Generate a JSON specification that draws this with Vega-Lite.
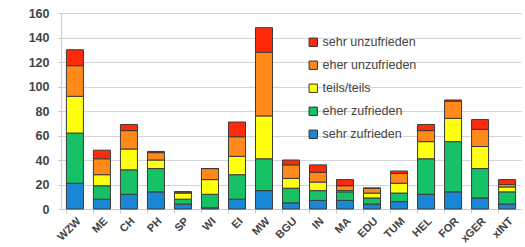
{
  "$schema": "https://vega.github.io/schema/vega-lite/v6.json",
  "width": 460,
  "height": 196,
  "autosize": {"type": "none"},
  "padding": {"left": 61, "top": 13, "right": 4, "bottom": 38},
  "background": "white",
  "config": {
    "view": {"stroke": null},
    "font": "Liberation Sans",
    "axis": {"labelFont": "Liberation Sans", "labelColor": "#333333", "gridColor": "#d4d4d4", "domainColor": "#c8c8c8", "tickColor": "#c8c8c8"}
  },
  "data": {
    "values": [
      {"c": "WZW", "s": "sehr zufrieden", "k": 1, "v": 21},
      {"c": "WZW", "s": "eher zufrieden", "k": 2, "v": 41},
      {"c": "WZW", "s": "teils/teils", "k": 3, "v": 30},
      {"c": "WZW", "s": "eher unzufrieden", "k": 4, "v": 25},
      {"c": "WZW", "s": "sehr unzufrieden", "k": 5, "v": 13},
      {"c": "ME", "s": "sehr zufrieden", "k": 1, "v": 8},
      {"c": "ME", "s": "eher zufrieden", "k": 2, "v": 11},
      {"c": "ME", "s": "teils/teils", "k": 3, "v": 9},
      {"c": "ME", "s": "eher unzufrieden", "k": 4, "v": 13},
      {"c": "ME", "s": "sehr unzufrieden", "k": 5, "v": 7},
      {"c": "CH", "s": "sehr zufrieden", "k": 1, "v": 12},
      {"c": "CH", "s": "eher zufrieden", "k": 2, "v": 20},
      {"c": "CH", "s": "teils/teils", "k": 3, "v": 17},
      {"c": "CH", "s": "eher unzufrieden", "k": 4, "v": 15},
      {"c": "CH", "s": "sehr unzufrieden", "k": 5, "v": 5},
      {"c": "PH", "s": "sehr zufrieden", "k": 1, "v": 14},
      {"c": "PH", "s": "eher zufrieden", "k": 2, "v": 19},
      {"c": "PH", "s": "teils/teils", "k": 3, "v": 7},
      {"c": "PH", "s": "eher unzufrieden", "k": 4, "v": 6},
      {"c": "PH", "s": "sehr unzufrieden", "k": 5, "v": 1},
      {"c": "SP", "s": "sehr zufrieden", "k": 1, "v": 4},
      {"c": "SP", "s": "eher zufrieden", "k": 2, "v": 4},
      {"c": "SP", "s": "teils/teils", "k": 3, "v": 5},
      {"c": "SP", "s": "eher unzufrieden", "k": 4, "v": 1},
      {"c": "SP", "s": "sehr unzufrieden", "k": 5, "v": 0},
      {"c": "WI", "s": "sehr zufrieden", "k": 1, "v": 1},
      {"c": "WI", "s": "eher zufrieden", "k": 2, "v": 11},
      {"c": "WI", "s": "teils/teils", "k": 3, "v": 12},
      {"c": "WI", "s": "eher unzufrieden", "k": 4, "v": 9},
      {"c": "WI", "s": "sehr unzufrieden", "k": 5, "v": 0},
      {"c": "EI", "s": "sehr zufrieden", "k": 1, "v": 8},
      {"c": "EI", "s": "eher zufrieden", "k": 2, "v": 20},
      {"c": "EI", "s": "teils/teils", "k": 3, "v": 15},
      {"c": "EI", "s": "eher unzufrieden", "k": 4, "v": 16},
      {"c": "EI", "s": "sehr unzufrieden", "k": 5, "v": 12},
      {"c": "MW", "s": "sehr zufrieden", "k": 1, "v": 15},
      {"c": "MW", "s": "eher zufrieden", "k": 2, "v": 26},
      {"c": "MW", "s": "teils/teils", "k": 3, "v": 35},
      {"c": "MW", "s": "eher unzufrieden", "k": 4, "v": 52},
      {"c": "MW", "s": "sehr unzufrieden", "k": 5, "v": 20},
      {"c": "BGU", "s": "sehr zufrieden", "k": 1, "v": 5},
      {"c": "BGU", "s": "eher zufrieden", "k": 2, "v": 12},
      {"c": "BGU", "s": "teils/teils", "k": 3, "v": 8},
      {"c": "BGU", "s": "eher unzufrieden", "k": 4, "v": 11},
      {"c": "BGU", "s": "sehr unzufrieden", "k": 5, "v": 4},
      {"c": "IN", "s": "sehr zufrieden", "k": 1, "v": 7},
      {"c": "IN", "s": "eher zufrieden", "k": 2, "v": 8},
      {"c": "IN", "s": "teils/teils", "k": 3, "v": 7},
      {"c": "IN", "s": "eher unzufrieden", "k": 4, "v": 8},
      {"c": "IN", "s": "sehr unzufrieden", "k": 5, "v": 6},
      {"c": "MA", "s": "sehr zufrieden", "k": 1, "v": 7},
      {"c": "MA", "s": "eher zufrieden", "k": 2, "v": 7},
      {"c": "MA", "s": "teils/teils", "k": 3, "v": 1},
      {"c": "MA", "s": "eher unzufrieden", "k": 4, "v": 4},
      {"c": "MA", "s": "sehr unzufrieden", "k": 5, "v": 5},
      {"c": "EDU", "s": "sehr zufrieden", "k": 1, "v": 4},
      {"c": "EDU", "s": "eher zufrieden", "k": 2, "v": 5},
      {"c": "EDU", "s": "teils/teils", "k": 3, "v": 4},
      {"c": "EDU", "s": "eher unzufrieden", "k": 4, "v": 4},
      {"c": "EDU", "s": "sehr unzufrieden", "k": 5, "v": 0},
      {"c": "TUM", "s": "sehr zufrieden", "k": 1, "v": 6},
      {"c": "TUM", "s": "eher zufrieden", "k": 2, "v": 7},
      {"c": "TUM", "s": "teils/teils", "k": 3, "v": 8},
      {"c": "TUM", "s": "eher unzufrieden", "k": 4, "v": 8},
      {"c": "TUM", "s": "sehr unzufrieden", "k": 5, "v": 2},
      {"c": "HEL", "s": "sehr zufrieden", "k": 1, "v": 12},
      {"c": "HEL", "s": "eher zufrieden", "k": 2, "v": 29},
      {"c": "HEL", "s": "teils/teils", "k": 3, "v": 14},
      {"c": "HEL", "s": "eher unzufrieden", "k": 4, "v": 9},
      {"c": "HEL", "s": "sehr unzufrieden", "k": 5, "v": 5},
      {"c": "FOR", "s": "sehr zufrieden", "k": 1, "v": 14},
      {"c": "FOR", "s": "eher zufrieden", "k": 2, "v": 41},
      {"c": "FOR", "s": "teils/teils", "k": 3, "v": 19},
      {"c": "FOR", "s": "eher unzufrieden", "k": 4, "v": 14},
      {"c": "FOR", "s": "sehr unzufrieden", "k": 5, "v": 1},
      {"c": "xGER", "s": "sehr zufrieden", "k": 1, "v": 9},
      {"c": "xGER", "s": "eher zufrieden", "k": 2, "v": 24},
      {"c": "xGER", "s": "teils/teils", "k": 3, "v": 18},
      {"c": "xGER", "s": "eher unzufrieden", "k": 4, "v": 14},
      {"c": "xGER", "s": "sehr unzufrieden", "k": 5, "v": 8},
      {"c": "xINT", "s": "sehr zufrieden", "k": 1, "v": 4},
      {"c": "xINT", "s": "eher zufrieden", "k": 2, "v": 10},
      {"c": "xINT", "s": "teils/teils", "k": 3, "v": 4},
      {"c": "xINT", "s": "eher unzufrieden", "k": 4, "v": 2},
      {"c": "xINT", "s": "sehr unzufrieden", "k": 5, "v": 4}
    ]
  },
  "mark": {"type": "bar", "stroke": "#3a3a3a", "strokeWidth": 1},
  "encoding": {
    "x": {
      "field": "c", "type": "nominal", "sort": null, "title": null,
      "scale": {"paddingInner": 0.37, "paddingOuter": 0.2},
      "axis": {"labelAngle": -45, "labelFontSize": 11, "labelFontWeight": "bold", "labelColor": "#444444", "tickSize": 4, "bandPosition": 0, "labelPadding": 2, "grid": false}
    },
    "y": {
      "field": "v", "type": "quantitative", "stack": "zero", "title": null,
      "scale": {"domain": [0, 160]},
      "axis": {"values": [0, 20, 40, 60, 80, 100, 120, 140, 160], "labelFontSize": 12.5, "labelFontWeight": "bold", "labelColor": "#444444", "tickSize": 3, "labelPadding": 9, "grid": true}
    },
    "color": {
      "field": "s", "type": "nominal",
      "scale": {
        "domain": ["sehr unzufrieden", "eher unzufrieden", "teils/teils", "eher zufrieden", "sehr zufrieden"],
        "range": ["#ff2a0a", "#ff8a1a", "#ffff10", "#17c166", "#1a86d6"]
      },
      "legend": {
        "title": null, "orient": "none", "legendX": 246, "legendY": 23,
        "symbolType": "square", "symbolSize": 70, "symbolStrokeColor": "#333333", "symbolStrokeWidth": 1,
        "symbolOpacity": 1, "labelFontSize": 12.5, "labelColor": "#444444", "rowPadding": 10, "labelOffset": 3
      }
    },
    "order": {"field": "k", "type": "quantitative", "sort": "ascending"}
  }
}
